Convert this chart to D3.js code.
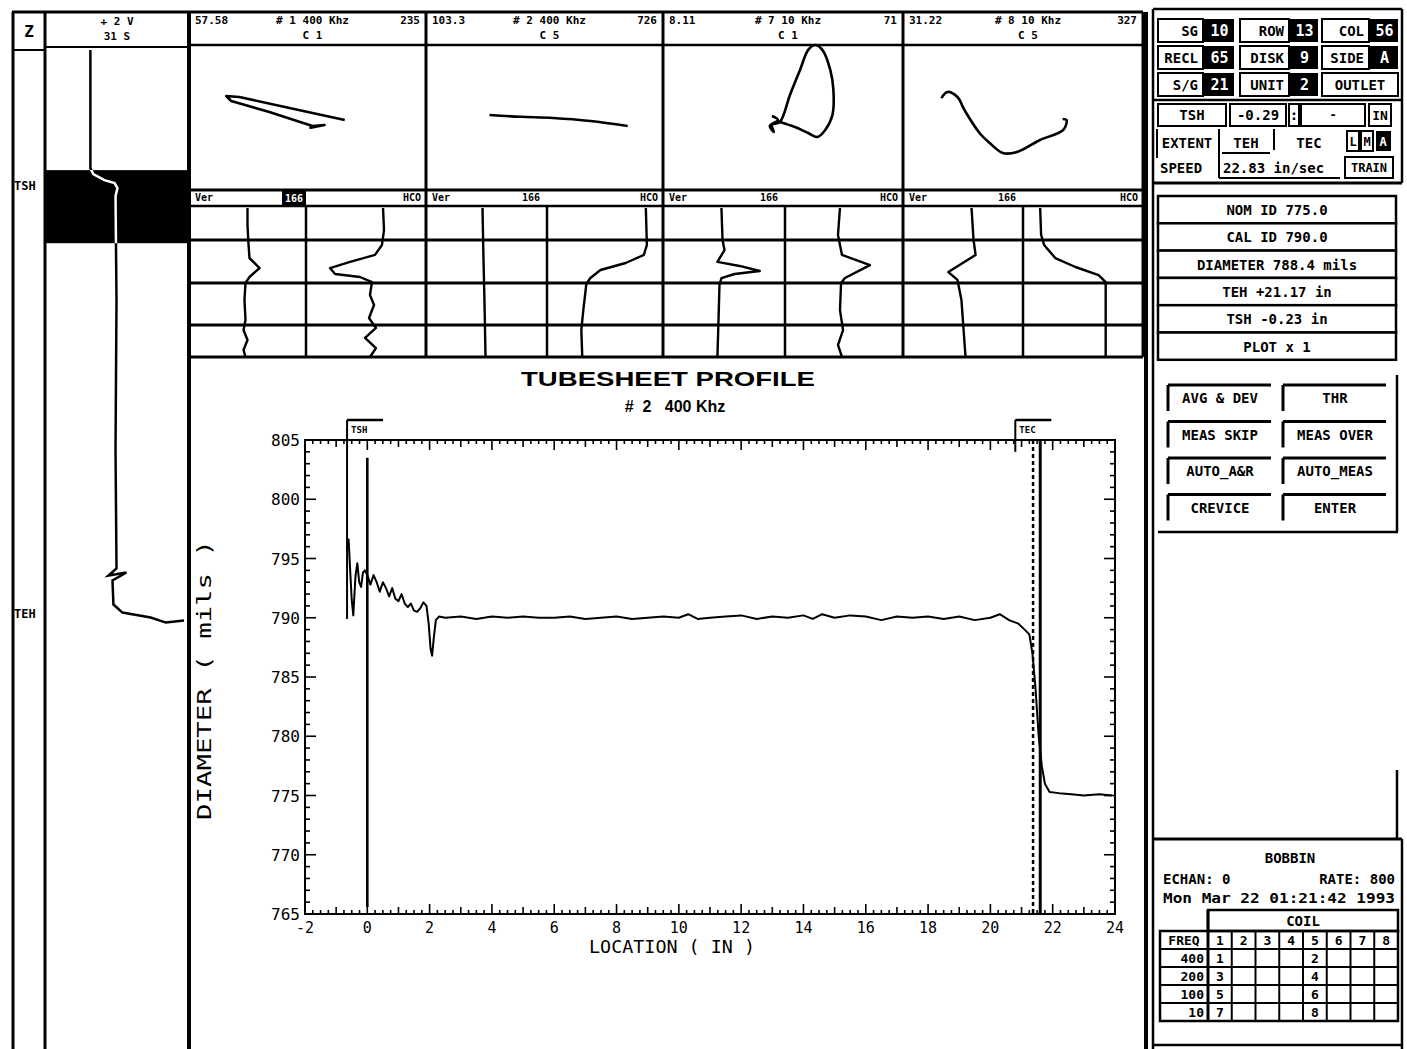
<!DOCTYPE html>
<html><head><meta charset="utf-8">
<script src="https://cdn.jsdelivr.net/npm/d3@7"></script>
<style>body{margin:0;background:#fff}svg{display:block}</style>
</head><body>
<svg id="c" width="1407" height="1049"></svg>
<script>
// ---------------- DATA ----------------
const xTickValues = [-2,0,2,4,6,8,10,12,14,16,18,20,22,24];
const yTickValues = [765,770,775,780,785,790,795,800,805];
const chartTitle = "TUBESHEET PROFILE";
const chartSubtitle = "#  2   400 Khz";
const xAxisTitle = "LOCATION ( IN )";
const yAxisTitle = "DIAMETER ( mils )";
// [location (in), diameter (mils)]
const profilePoints = [
 [-0.66,795.8],[-0.6,796.6],[-0.55,794.0],[-0.5,791.5],[-0.45,790.2],[-0.38,793.5],[-0.32,794.6],[-0.26,793.0],
 [-0.2,792.6],[-0.14,793.8],[-0.08,794.0],[0.0,793.6],[0.1,792.8],[0.2,793.6],[0.3,793.0],[0.4,792.2],[0.5,793.0],
 [0.6,792.5],[0.7,791.8],[0.8,792.5],[0.9,791.6],[1.0,791.4],[1.1,792.0],[1.2,791.2],[1.3,790.9],[1.4,791.2],
 [1.5,790.6],[1.6,790.5],[1.7,790.8],[1.8,791.3],[1.9,791.0],[1.97,789.5],[2.03,787.4],[2.08,786.8],[2.13,788.2],
 [2.2,789.8],[2.3,790.1],[2.5,790.0],[3.0,790.1],[3.5,789.9],[4.0,790.1],[4.5,790.0],[5.0,790.1],[5.5,790.0],
 [6.0,790.0],[6.5,790.1],[7.0,789.9],[7.5,790.0],[8.0,790.1],[8.5,789.9],[9.0,790.0],[9.5,790.1],[10.0,790.0],
 [10.3,790.3],[10.6,789.9],[11.0,790.0],[11.5,790.1],[12.0,790.2],[12.5,789.9],[13.0,790.1],[13.5,790.0],
 [14.0,790.2],[14.3,789.9],[14.6,790.3],[15.0,790.0],[15.5,790.2],[16.0,790.1],[16.5,789.8],[17.0,790.1],
 [17.5,790.0],[18.0,790.1],[18.5,789.9],[19.0,790.1],[19.5,789.8],[20.0,790.0],[20.3,790.3],[20.6,789.8],
 [20.9,789.5],[21.1,789.0],[21.25,788.6],[21.35,787.0],[21.45,784.0],[21.55,780.0],[21.65,777.5],[21.75,776.0],
 [21.9,775.3],[22.2,775.2],[22.6,775.1],[23.0,775.0],[23.5,775.1],[23.9,775.0]
];
const markerNames = ["TSH","TEC"];
const markerLocations = [-0.65, 20.8];
const solidLineLocations = [0.0, 21.6];
const extentLineLocations = [21.37];

// lissajous panels: header values and traces [h%, v%]
const lissLeft = ["57.58","103.3","8.11","31.22"];
const lissCenter = ["#  1  400 Khz","#  2  400 Khz","#  7  10 Khz","#  8  10 Khz"];
const lissRight = ["235","726","71","327"];
const lissCoil = ["C 1","C 5","C 1","C 5"];
const liss1 = [[65.7,51.7],[42.4,43.4],[21.2,35.9],[15.7,35.2],[17.8,38.6],[33.9,46.2],[52.1,55.9],[57.2,55.2],[50.8,57.2]];
const liss2 = [[26.8,48.3],[40,49.5],[53.6,50.3],[69.4,52.4],[85.1,55.9]];
const liss3 = [[45.4,49.0],[47.9,51.7],[44.5,55.9],[46.2,60.0],[45.4,55.0],[48.7,53.1],[52.9,34.5],[57.1,17.2],[60.5,3.4],[63.4,0],[66.4,3.4],[69.7,17.2],[71,31],[70.6,48.3],[67.6,58.6],[64.3,63.4],[60.5,60.7],[55,56.6],[48.7,53.1]];
const liss4 = [[16,36.6],[18.5,32.4],[22.7,35.9],[25.6,44.8],[31.9,60.7],[36.1,67.6],[41.6,74.5],[47.5,73.8],[57.1,65.5],[66.8,58.6],[68.1,51.7],[66.5,51.0]];
// strip chart traces [h%, t%]
const strip1a = [[50,0],[50,11.4],[50.9,24.8],[51.7,33.6],[60.3,40.3],[51.7,46.3],[48.3,50.3],[47.4,61.7],[48.3,75.2],[46.6,81.9],[50,88.6],[46.6,95.3],[48.3,100]];
const strip1b = [[64.2,0],[65,14.8],[63.3,24.8],[57.5,31.5],[36.7,36.2],[20,40.3],[24.2,44.3],[45,46.3],[55,49.7],[53.3,58.4],[56.7,65.1],[52.5,73.8],[58.3,80.5],[49.2,87.2],[58.3,94],[53.3,100]];
const strip2a = [[46.7,0],[47.5,34],[48.3,61.7],[49.2,100]];
const strip2b = [[85.2,0],[86.1,24.8],[83.5,31.5],[67.8,36.9],[46.1,41.6],[37.4,47],[33.9,51],[31.3,68.5],[29.6,81.9],[30.4,100]];
const strip3a = [[47.9,0],[48.8,21.5],[50.4,28.2],[44.6,36.2],[62.8,38.9],[79.3,42.3],[58.7,44.3],[47.9,47],[46.3,51.7],[45.5,75.2],[44.6,100]];
const strip3b = [[46.6,0],[44.9,18.1],[48.3,31.5],[72,38.3],[50.8,47],[47.5,50.3],[46.6,68.5],[49.2,81.9],[44.9,91.9],[48.3,100]];
const strip4a = [[57.1,0],[58.8,21.5],[60.5,31.5],[47.1,38.3],[37.8,43],[45.4,48.3],[48.7,61.7],[52.1,100]];
const strip4b = [[14.3,0],[15.1,18.1],[17.6,24.8],[26.9,33.6],[43.7,39.6],[63,45],[68.9,49.7],[68.9,100]];
const stripHeader = ["Ver","166","HCO"];
// left position strip [h%, sample]
const posTrace = [[31.2,2],[31.2,120],[33.3,126],[41.3,132],[48.6,135],[50.7,140],[49.3,148],[50,252],[49.3,402],[50,520],[44.2,527],[57.2,524],[47.1,532],[47.8,556],[54.3,564],[74.6,569],[85.5,574],[98.6,572]];
const posBand = [122,195];
const posLabels = ["TSH","TEH"];
const posLabelSamples = [137,564];

// right panel
const idRow1 = [["SG","10"],["ROW","13"],["COL","56"]];
const idRow2 = [["RECL","65"],["DISK","9"],["SIDE","A"]];
const idRow3 = [["S/G","21"],["UNIT","2"]];
const infoLines = ["NOM ID 775.0","CAL ID 790.0","DIAMETER 788.4 mils","TEH +21.17 in","TSH -0.23 in","PLOT x 1"];
const buttonLabels = ["AVG & DEV","THR","MEAS SKIP","MEAS OVER","AUTO_A&R","AUTO_MEAS","CREVICE","ENTER"];
const coilNumbers = ["1","2","3","4","5","6","7","8"];
const freqLabels = ["400","200","100","10"];
const chanCoil1 = ["1","3","5","7"];
const chanCoil5 = ["2","4","6","8"];

// ---------------- DRAW ----------------
const svg = d3.select("#c");
const MONO = '"DejaVu Sans Mono", monospace';
const SANS = '"Liberation Sans", Arial, sans-serif';
svg.append("rect").attr("width",1407).attr("height",1049).attr("fill","#fff");

function ln(x1,y1,x2,y2,w){ return svg.append("line").attr("x1",x1).attr("y1",y1).attr("x2",x2).attr("y2",y2).attr("stroke","#000").attr("stroke-width",w||2); }
function bx(x,y,w,h,fill,sw){ return svg.append("rect").attr("x",x).attr("y",y).attr("width",w).attr("height",h).attr("fill",fill||"none").attr("stroke","#000").attr("stroke-width",sw===undefined?2:sw); }
function tx(x,y,s,size,anchor,fill,family,weight){ return svg.append("text").attr("x",x).attr("y",y).text(s).attr("font-size",size).attr("text-anchor",anchor||"start").attr("fill",fill||"#000").attr("font-family",family||MONO).attr("font-weight",weight||"bold"); }

// ---- frame lines ----
ln(12,12,1143,12,3);
ln(13,12,13,1049,3);
ln(45,12,45,1049,3);
ln(189,12,189,1049,4);
ln(1146,12,1146,1049,4);
ln(13,50,45,50,2);
ln(45,47,189,47,2);

// ---- left position strip ----
const ph = d3.scaleLinear().domain([0,100]).range([47,186]);
const pt = d3.scaleLinear().domain([0,1000]).range([48,1049]);
svg.append("clipPath").attr("id","bandclip").append("rect").attr("x",46).attr("y",pt(posBand[0])).attr("width",142).attr("height",pt(posBand[1])-pt(posBand[0]));
svg.append("rect").attr("x",46).attr("y",pt(posBand[0])).attr("width",142).attr("height",pt(posBand[1])-pt(posBand[0])).attr("fill","#000");
svg.append("path").datum(posTrace).attr("fill","none").attr("stroke","#000").attr("stroke-width",2.5)
  .attr("d",d3.line().x(d=>ph(d[0])).y(d=>pt(d[1])));
svg.append("path").datum(posTrace).attr("fill","none").attr("stroke","#fff").attr("stroke-width",2.5)
  .attr("clip-path","url(#bandclip)")
  .attr("d",d3.line().x(d=>ph(d[0])).y(d=>pt(d[1])));
tx(29,37,"Z",16,"middle");
tx(117,25,"+ 2 V",11,"middle");
tx(117,40,"31 S",11,"middle");
posLabels.forEach((s,i)=>tx(14,pt(posLabelSamples[i])+5,s,12,"start"));

// ---- lissajous panels ----
const panelEdges = [189,426,663,903,1143];
const lissData = [liss1,liss2,liss3,liss4];
for(let i=0;i<4;i++){
  const x0=panelEdges[i], x1=panelEdges[i+1];
  if(i>0) ln(x0,12,x0,357,3);
  ln(x0,45,x1,45,2.5);
  tx(x0+6,24,lissLeft[i],11,"start");
  tx((x0+x1)/2+5,24,lissCenter[i],11,"middle");
  tx(x1-6,24,lissRight[i],11,"end");
  tx((x0+x1)/2+5,39,lissCoil[i],11,"middle");
  const lx = d3.scaleLinear().domain([0,100]).range([x0,x1]);
  const ly = d3.scaleLinear().domain([0,100]).range([45,190]);
  svg.append("path").datum(lissData[i]).attr("fill","none").attr("stroke","#000").attr("stroke-width",2.6)
    .attr("stroke-linejoin","round")
    .attr("d",d3.line().x(d=>lx(d[0])).y(d=>ly(d[1])).curve(i===0?d3.curveLinear:d3.curveCatmullRom));
}
ln(1143,12,1143,357,3);

// ---- strip charts ----
const halves = [[189,306],[306,426],[426,547],[547,663],[663,785],[785,903],[903,1023],[1023,1143]];
const stripData = [strip1a,strip1b,strip2a,strip2b,strip3a,strip3b,strip4a,strip4b];
const st = d3.scaleLinear().domain([0,100]).range([208,357]);
ln(189,190,1143,190,3);
ln(189,206,1143,206,2.5);
[240,283,325].forEach(yy=>ln(189,yy,1143,yy,3));
ln(189,357,1143,357,3);
for(let i=0;i<4;i++){
  const x0=panelEdges[i], x1=panelEdges[i+1], mid=halves[i*2][1];
  ln(mid,206,mid,357,2.5);
  tx(x0+6,201,stripHeader[0],10,"start");
  if(i===0){ svg.append("rect").attr("x",mid-24).attr("y",191).attr("width",24).attr("height",14).attr("fill","#000");
    tx(mid-12,202,stripHeader[1],10,"middle","#fff"); }
  else tx(mid-16,201,stripHeader[1],10,"middle");
  tx(x1-5,201,stripHeader[2],10,"end");
}
stripData.forEach((tr,k)=>{
  const hx = d3.scaleLinear().domain([0,100]).range(halves[k]);
  svg.append("path").datum(tr).attr("fill","none").attr("stroke","#000").attr("stroke-width",2.4)
    .attr("stroke-linejoin","round")
    .attr("d",d3.line().x(d=>hx(d[0])).y(d=>st(d[1])));
});

// ---- main chart ----
const x = d3.scaleLinear().domain([-2,24]).range([305,1115]);
const y = d3.scaleLinear().domain([765,805]).range([914,440]);
tx(668,386,chartTitle,21,"middle","#000",SANS,"bold").attr("textLength",294).attr("lengthAdjust","spacingAndGlyphs");
tx(675,412,chartSubtitle,16,"middle","#000",SANS,"bold").style("white-space","pre");

bx(x(-2),y(805),x(24)-x(-2),y(765)-y(805),"none",2);
const xMinor = d3.range(-2,24.001,0.25);
xMinor.forEach(v=>{
  const isEven = Math.abs(v/2-Math.round(v/2))<1e-6;
  const isInt = Math.abs(v-Math.round(v))<1e-6;
  const len = isEven?10:(isInt?7:4);
  ln(x(v),y(765),x(v),y(765)-len,1.6);
  ln(x(v),y(805),x(v),y(805)+len,1.6);
});
d3.range(765,805.001,1).forEach(v=>{
  const len = (v%5===0)?11:5;
  ln(x(-2),y(v),x(-2)+len,y(v),1.6);
  ln(x(24),y(v),x(24)-len,y(v),1.6);
});
xTickValues.forEach(v=>tx(x(v),933,String(v),15,"middle","#000",MONO,"normal"));
yTickValues.forEach(v=>tx(x(-2)-5,y(v)+6,String(v),16,"end","#000",MONO,"normal"));
tx(672,953,xAxisTitle,17,"middle","#000",MONO,"normal").attr("textLength",166).attr("lengthAdjust","spacingAndGlyphs");
tx(0,0,yAxisTitle,20,"middle","#000",MONO,"normal").attr("transform",`translate(211,680) rotate(-90)`)
  .attr("textLength",280).attr("lengthAdjust","spacingAndGlyphs");

markerNames.forEach((m,i)=>{
  const mx = x(markerLocations[i]);
  ln(mx,420,mx,i===0?y(789.9):y(804),2);
  ln(mx,420,mx+36,420,2.5);
  tx(mx+4,433,m,9,"start");
});
solidLineLocations.forEach((v,i)=>ln(x(v),i===0?y(803.5):y(805),x(v),i===0?y(765.6):y(765),i===0?2.6:3));
extentLineLocations.forEach(v=>ln(x(v),y(805),x(v),y(765),2.5).attr("stroke-dasharray","4,3"));

svg.append("path").datum(profilePoints).attr("fill","none").attr("stroke","#000").attr("stroke-width",2)
  .attr("stroke-linejoin","round")
  .attr("d",d3.line().x(d=>x(d[0])).y(d=>y(d[1])));

// ---- right panel ----
ln(1153,9,1402,9,2.5);
ln(1153,9,1153,1049,2.5);
ln(1402,9,1402,183,2.5);
ln(1153,100,1402,100,2.5);
ln(1153,183,1402,183,3);
const cellX = [[1158,1203,1234],[1240,1289,1318],[1322,1369,1398]];
[idRow1,idRow2,idRow3].forEach((row,r)=>{
  const yy = 19 + r*27;
  row.forEach((c,j)=>{
    const [a,b,e] = cellX[j];
    bx(a,yy,b-a,23,"#fff",2);
    tx(b-5,yy+17,c[0],14,"end");
    svg.append("rect").attr("x",b+1).attr("y",yy).attr("width",e-b-1).attr("height",23).attr("fill","#000");
    tx((b+e)/2+1,yy+17,c[1],15,"middle","#fff");
  });
});
bx(1322,73,76,23,"#fff",2); tx(1360,90,"OUTLET",14,"middle");
bx(1158,104,68,22,"#fff",2); tx(1192,120,"TSH",14,"middle");
bx(1230,104,56,22,"#fff",2); tx(1258,120,"-0.29",14,"middle");
bx(1289,104,10,22,"#fff",2); tx(1294,120,":",14,"middle");
bx(1301,104,64,22,"#fff",2); tx(1333,119,"-",12,"middle");
bx(1369,104,22,22,"#fff",2); tx(1380,120,"IN",13,"middle");
ln(1157,129,1157,158,2); ln(1219,129,1219,158,2); ln(1274,129,1274,150,2);
tx(1187,148,"EXTENT",14,"middle");
tx(1246,148,"TEH",14,"middle"); ln(1222,153,1270,153,2);
tx(1309,148,"TEC",14,"middle");
bx(1347,131,12,20,"#fff",2); tx(1353,146,"L",12,"middle");
bx(1361,131,12,20,"#fff",2); tx(1367,146,"M",12,"middle");
svg.append("rect").attr("x",1376).attr("y",131).attr("width",15).attr("height",20).attr("fill","#000");
tx(1383,146,"A",12,"middle","#fff");
tx(1160,173,"SPEED",14,"start");
ln(1219,156,1219,178,2); ln(1219,178,1340,178,2);
tx(1223,173,"22.83 in/sec",14,"start");
bx(1345,157,48,21,"#fff",2); tx(1369,172,"TRAIN",12,"middle");
infoLines.forEach((s,i)=>{
  const yy = 196 + i*27.3;
  bx(1158,yy,238,27.3,"#fff",2.5);
  tx(1277,yy+19,s,14,"middle");
});
ln(1397,375,1397,532,2.5);
ln(1158,532,1398,532,2.5);
buttonLabels.forEach((s,i)=>{
  const col = i%2, row = Math.floor(i/2);
  const bx0 = col===0?1168:1283, by0 = 385 + row*36.5;
  ln(bx0,by0,bx0+103,by0,3);
  ln(bx0,by0,bx0,by0+26,3);
  tx(bx0+52,by0+18,s,14,"middle");
});
ln(1397,770,1397,838,2.5);
ln(1153,839,1402,839,3);
ln(1402,839,1402,1049,2.5);
tx(1290,863,"BOBBIN",14,"middle");
tx(1163,884,"ECHAN: 0",14,"start");
tx(1395,884,"RATE: 800",14,"end");
tx(1163,903,"Mon Mar 22 01:21:42 1993",14,"start").attr("textLength",232).attr("lengthAdjust","spacingAndGlyphs");
const cx = d3.scaleBand().domain(coilNumbers).range([1208,1398]);
const rowsY = [931,949,967,985,1003,1021];
bx(1208,910,190,21,"#fff",2.5); tx(1303,926,"COIL",14,"middle");
bx(1160,931,238,90,"none",2.5);
rowsY.forEach(yy=>ln(1160,yy,1398,yy,2));
ln(1208,910,1208,1021,3);
coilNumbers.forEach(c=>{ ln(cx(c)+cx.bandwidth(),931,cx(c)+cx.bandwidth(),1021,2); tx(cx(c)+cx.bandwidth()/2,945,c,13,"middle"); });
tx(1184,945,"FREQ",13,"middle");
freqLabels.forEach((f,i)=>{
  const yy = rowsY[i+1]+14;
  tx(1204,yy,f,13,"end");
  tx(cx("1")+cx.bandwidth()/2,yy,chanCoil1[i],13,"middle");
  tx(cx("5")+cx.bandwidth()/2,yy,chanCoil5[i],13,"middle");
});
ln(1153,1045,1402,1045,2.5);
</script>
</body></html>
